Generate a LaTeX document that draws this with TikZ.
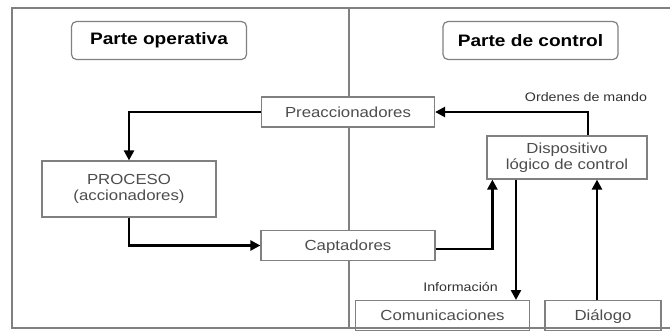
\documentclass[tikz,border=0pt]{standalone}
\usepackage{fontspec}
\setmainfont{Liberation Sans}[FakeStretch=1.15]
\usetikzlibrary{arrows.meta,calc}
\definecolor{boxgray}{HTML}{808080}
\definecolor{txtgray}{HTML}{4D4D4D}
\tikzset{
  frameline/.style={draw=boxgray, line width=1.3pt},
  box/.style={draw=boxgray, line width=1.2pt, fill=white, text=txtgray,
    font=\fontsize{14.6}{16}\selectfont, align=center, inner sep=0pt},
  onebox/.style={box, text height=10.5pt, text depth=0pt},
  header/.style={draw=boxgray, rounded corners=5pt, line width=1.2pt, fill=white,
    font=\bfseries\fontsize{16.6}{18}\selectfont, minimum width=175pt,
    minimum height=38pt, inner sep=0pt},
  lbl/.style={font=\fontsize{12.4}{14}\selectfont, text=black!80, inner sep=0pt},
  conn/.style={line width=2.4pt, -{Triangle[length=10pt,width=10pt]}}
}
\begin{document}
\begin{tikzpicture}[x=1pt,y=-1pt]
\useasboundingbox (0,0) rectangle (670,330);
\clip (0,0) rectangle (670,330);
% frame and divider
\draw[frameline] (675,8) -- (12,8) -- (12,329);
\draw[frameline] (349,8) -- (349,329);
% headers
\node[header] (po) at (159,40.5) {Parte operativa};
\node[header] (pc) at (530.5,40.5) {Parte de control};
% boxes
\node[onebox, minimum width=173pt, minimum height=30pt] (pre) at (348,112) {Preaccionadores};
\node[box, minimum width=174pt, minimum height=56pt] (proc) at (129,189) {PROCESO\\(accionadores)};
\node[onebox, minimum width=174pt, minimum height=30pt] (cap) at (348,245.5) {Captadores};
\node[box, minimum width=160pt, minimum height=43pt] (disp) at (567,157.5) {Dispositivo\\lógico de control};
\node[onebox, anchor=north, minimum width=174pt, minimum height=30pt] (com) at (442.5,300) {Comunicaciones};
\node[onebox, anchor=north, minimum width=116pt, minimum height=30pt] (dia) at (603,300) {Diálogo};
% labels
\node[lbl, anchor=base] (ord) at (586,101.5) {Ordenes de mando};
\node[lbl, anchor=base east] (inf) at (498,291.5) {Información};
% connectors
\draw[conn] (pre.west) -| (proc.north);
\draw[conn] (proc.south) |- (cap.west);
\draw[conn] ([yshift=-3.5pt]cap.east) -| ([xshift=6pt]disp.south west);
\draw[conn] ([xshift=21pt]disp.north) |- (pre.east);
\draw[conn] ([xshift=-51pt]disp.south) -- ([xshift=-51pt]disp.south |- com.north);
\draw[conn] ([xshift=-6pt]dia.north) -- ([xshift=-6pt]dia.north |- disp.south);
% bottom frame line
\draw[frameline] (12,328) -- (675,328);
\end{tikzpicture}
\end{document}
